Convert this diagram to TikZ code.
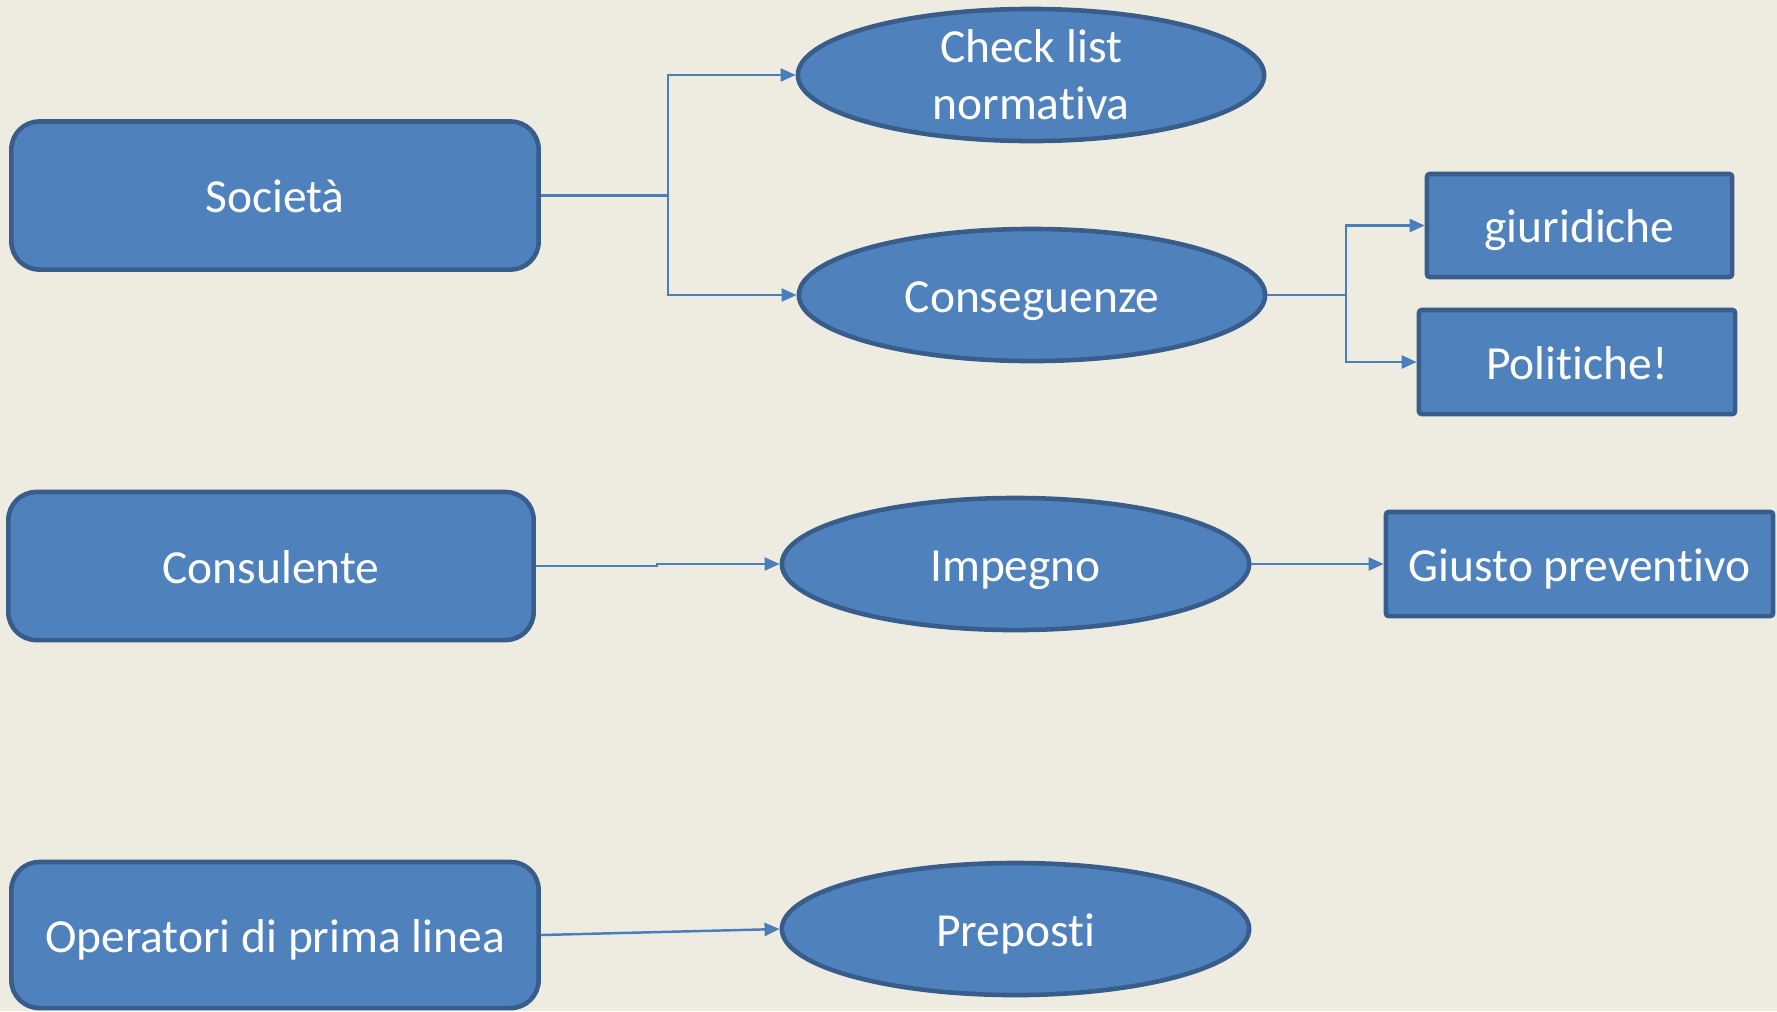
\documentclass[tikz,border=0pt]{standalone}
\usepackage{fontspec}
\setmainfont[RawFeature=-liga,RawFeature=-clig,RawFeature=-calt,RawFeature=-dlig]{Carlito}
\usetikzlibrary{shapes.geometric,arrows.meta}
\definecolor{bgc}{HTML}{EEECE1}
\definecolor{fillc}{HTML}{4F81BD}
\definecolor{edgec}{HTML}{385D8A}
\definecolor{linec}{HTML}{4A7EBB}
\begin{document}
\begin{tikzpicture}[x=0.01cm,y=-0.01cm,
  base/.style={fill=fillc,draw=edgec,line width=1.3pt,text=white,inner sep=0pt,
    font=\fontsize{13.5}{16.2}\selectfont,align=center},
  one/.style={text height=9.7pt,text depth=0pt},
  rbox/.style={base,one,rectangle,rounded corners=0.28cm},
  sbox/.style={base,one,rectangle,rounded corners=0.8pt},
  ell/.style={base,ellipse},
  conn/.style={draw=linec,line width=0.7pt,-{Triangle[length=1.5mm,width=1.3mm]}},
  plain/.style={draw=linec,line width=0.7pt}]
\fill[bgc] (0,0) rectangle (1777,1011);
\useasboundingbox (0,0) rectangle (1777,1011);
% left boxes
\node[rbox,minimum width=5.27cm,minimum height=1.48cm] (soc) at (275,195.5) {Società};
\node[rbox,minimum width=5.25cm,minimum height=1.48cm] (con) at (271,566) {Consulente};
\node[rbox,minimum width=5.27cm,minimum height=1.46cm] (ope) at (275,935) {Operatori di prima linea};
% ellipses
\node[ell,minimum width=4.66cm,minimum height=1.32cm] (chk) at (1031,75) {Check list\\normativa};
\node[ell,one,minimum width=4.66cm,minimum height=1.32cm] (cons) at (1032,295) {Conseguenze};
\node[ell,one,minimum width=4.67cm,minimum height=1.32cm] (imp) at (1015.5,564) {Impegno};
\node[ell,one,minimum width=4.67cm,minimum height=1.32cm] (pre) at (1015.5,929) {Preposti};
% right boxes
\node[sbox,minimum width=3.05cm,minimum height=1.03cm] (giu) at (1579.5,225.5) {giuridiche};
\node[sbox,minimum width=3.16cm,minimum height=1.04cm] (pol) at (1577,362) {Politiche!};
\node[sbox,minimum width=3.87cm,minimum height=1.04cm] (giu2) at (1579.5,564) {Giusto preventivo};
% connectors
\coordinate (s1) at (668,195.5);
\draw[plain] (soc.east) -- (s1);
\draw[conn] (s1) |- (chk.west);
\draw[conn] (s1) |- (cons.west);
\coordinate (s2) at (1346,295);
\draw[plain] (cons.east) -- (s2);
\draw[conn] (s2) |- (giu.west);
\draw[conn] (s2) |- (pol.west);
\coordinate (s3) at (657,566);
\draw[conn] (con.east) -- (s3) |- (imp.west);
\draw[conn] (imp.east) -- (giu2.west);
\draw[conn] (ope.east) -- (pre.west);
\end{tikzpicture}
\end{document}
